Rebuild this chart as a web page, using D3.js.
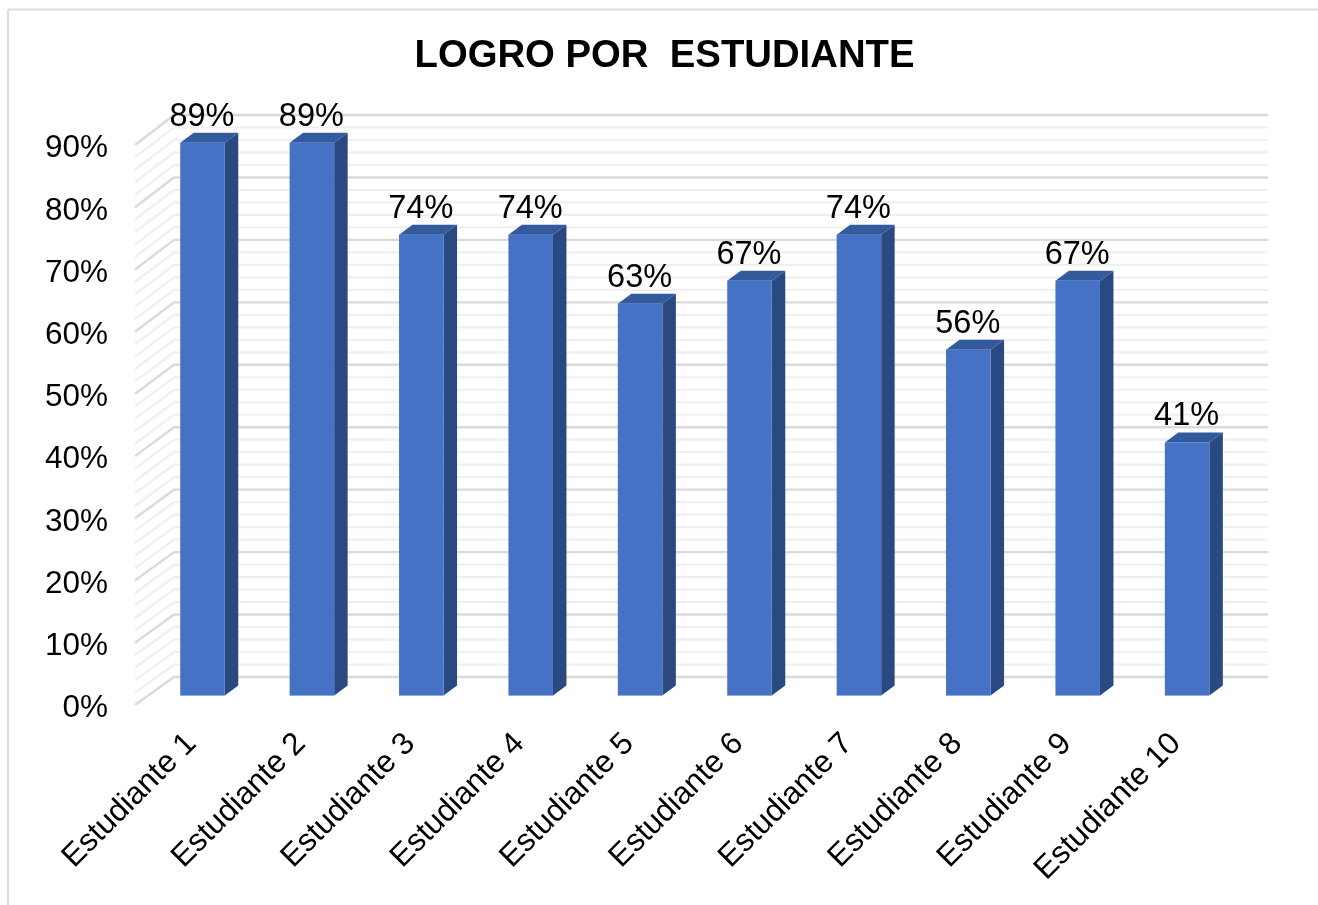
<!DOCTYPE html>
<html><head><meta charset="utf-8">
<script src="https://cdn.jsdelivr.net/npm/d3@7"></script>
<style>html,body{margin:0;padding:0;background:#fff}svg{display:block}text{font-family:"Liberation Sans",Arial,sans-serif;fill:#000}</style>
</head><body><div id="chart"></div>
<script>
const title = "LOGRO POR\u00a0\u00a0ESTUDIANTE";
const categories = ["Estudiante 1","Estudiante 2","Estudiante 3","Estudiante 4","Estudiante 5","Estudiante 6","Estudiante 7","Estudiante 8","Estudiante 9","Estudiante 10"];
const values = [0.889,0.889,0.741,0.741,0.63,0.667,0.741,0.556,0.667,0.407];
const majorTicks = [0,0.1,0.2,0.3,0.4,0.5,0.6,0.7,0.8,0.9];
const minorTicks = d3.range(0,46).map(i=>i/50);

const W=1318,H=905;
const svg=d3.select("#chart").append("svg").attr("width",W).attr("height",H);
const defs=svg.append("defs");
defs.append("filter").attr("id","soft").attr("x","-5%").attr("y","-5%").attr("width","110%").attr("height","110%")
  .append("feGaussianBlur").attr("stdDeviation",0.6);
const root=svg.append("g").attr("filter","url(#soft)");

// chart frame edges
root.append("line").attr("x1",8).attr("x2",W).attr("y1",9.5).attr("y2",9.5).attr("stroke","#dcdcdc").attr("stroke-width",2);
root.append("line").attr("x1",8).attr("x2",8).attr("y1",9.5).attr("y2",H).attr("stroke","#dcdcdc").attr("stroke-width",2);

root.append("text").attr("x",664.5).attr("y",67).attr("text-anchor","middle")
  .attr("font-size",38.3).attr("font-weight","bold").text(title);

const yBack=d3.scaleLinear().domain([0,0.9]).range([677,115]);
const yFloor=d3.scaleLinear().domain([0,0.9]).range([705,145]);
const yBar=d3.scaleLinear().domain([0,0.9]).range([695.6,135.8]);
const x=d3.scaleBand().domain(categories).range([147.8,1241.8]).paddingInner(0.593).paddingOuter(0.2965);
const dx=13.5,dy=10;
const wallL=174,wallR=1268,stubL=135;

const isMajor=v=>Math.abs(v*10-Math.round(v*10))<1e-6;
const grid=root.append("g").attr("fill","none");
grid.selectAll("path").data(minorTicks).join("path")
  .attr("d",v=>`M${stubL},${yFloor(v)}L${wallL},${yBack(v)}L${wallR},${yBack(v)}`)
  .attr("stroke",v=>isMajor(v)?"#dadada":"#efefef")
  .attr("stroke-width",v=>isMajor(v)?2.4:2.2);

const bars=root.append("g").selectAll("g").data(categories).join("g");
const v=(d)=>values[categories.indexOf(d)];
bars.append("path").attr("fill","#2a4a80") // side
  .attr("d",d=>{const r=x(d)+x.bandwidth();return `M${r},${yBar(v(d))}L${r+dx},${yBar(v(d))-dy}L${r+dx},${yBar(0)-dy}L${r},${yBar(0)}Z`;});
bars.append("path").attr("fill","#325a9c") // top
  .attr("d",d=>{const l=x(d),r=l+x.bandwidth(),t=yBar(v(d));return `M${l},${t}L${l+dx},${t-dy}L${r+dx},${t-dy}L${r},${t}Z`;});
bars.append("rect").attr("fill","#4472c4")
  .attr("x",d=>x(d)).attr("width",x.bandwidth())
  .attr("y",d=>yBar(v(d))).attr("height",d=>yBar(0)-yBar(v(d)));
bars.append("text").attr("text-anchor","middle").attr("font-size",32.5)
  .attr("x",d=>x(d)+x.bandwidth()/2-0.5).attr("y",d=>yBar(v(d))-dy-7)
  .text(d=>d3.format(".0%")(v(d)));

const yAxis=d3.axisLeft(yFloor).tickValues(majorTicks).tickFormat(d3.format(".0%")).tickSize(0).tickPadding(0);
const ya=root.append("g").attr("transform","translate(108,0.5)").call(yAxis);
ya.select(".domain").remove();
ya.selectAll("text").attr("font-size",31.5).attr("font-family",null).attr("dy","0.36em");
ya.attr("font-family",null);

const xAxis=d3.axisBottom(x).tickSize(0).tickPadding(0);
const xa=root.append("g").attr("transform","translate(0,722)").call(xAxis);
xa.select(".domain").remove();
xa.attr("font-family",null);
xa.selectAll("text").attr("font-size",31.4).attr("text-anchor","end")
  .attr("dy",null).attr("y",0).attr("transform","translate(-5,23) rotate(-45)");
</script></body></html>
